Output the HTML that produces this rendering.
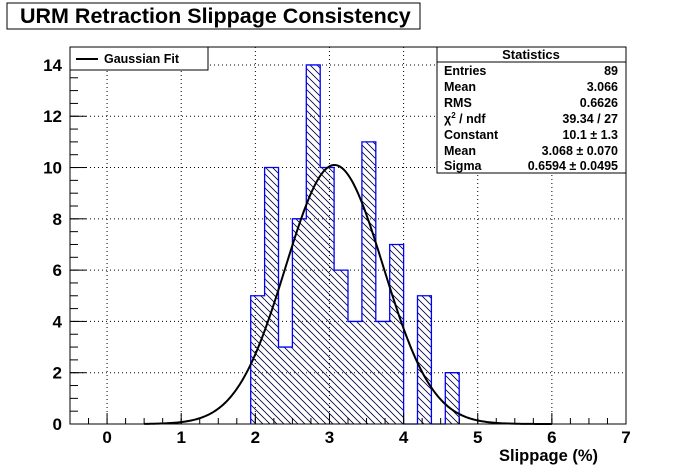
<!DOCTYPE html>
<html><head><meta charset="utf-8"><style>
body{margin:0;background:#fff;}
svg{display:block;font-family:"Liberation Sans",Arial,sans-serif;font-weight:bold;}
</style></head><body>
<svg width="696" height="472" viewBox="0 0 696 472">
<defs>
<pattern id="hatch" patternUnits="userSpaceOnUse" width="7" height="7">
<path d="M-1,-1 L8,8 M-8,-1 L1,8 M6,-1 L15,8" stroke="#000040" stroke-width="0.8"/>
</pattern>
</defs>
<rect x="7" y="3" width="413" height="26" fill="#fff" stroke="#000"/>
<text x="20" y="23" font-size="21.5">URM Retraction Slippage Consistency</text>
<g id="grid"></g>
<g id="bars"></g>
<path id="outline" fill="none" stroke="#0000ff" stroke-width="1.3"/>
<path id="fit" fill="none" stroke="#000" stroke-width="2"/>
<rect x="70" y="47" width="556" height="377" fill="none" stroke="#000"/>
<g id="axes"></g>
<text x="598" y="461" font-size="16.5" text-anchor="end">Slippage (%)</text>
<g>
<rect x="70" y="47" width="138" height="23" fill="#fff" stroke="#000"/>
<line x1="76" y1="59" x2="98" y2="59" stroke="#000" stroke-width="2"/>
<text x="104" y="63" font-size="12.5">Gaussian Fit</text>
</g>
<g font-size="12.5">
<rect x="437" y="47" width="189" height="126" fill="#fff" stroke="#000"/>
<line x1="437" y1="62" x2="626" y2="62" stroke="#000"/>
<text x="531" y="59" text-anchor="middle" font-size="13">Statistics</text>
<text x="444" y="75">Entries</text><text x="618" y="75" text-anchor="end">89</text>
<text x="444" y="91">Mean</text><text x="618" y="91" text-anchor="end">3.066</text>
<text x="444" y="107">RMS</text><text x="618" y="107" text-anchor="end">0.6626</text>
<text x="444" y="123">χ<tspan font-size="8" dy="-5">2</tspan><tspan dy="5"> / ndf</tspan></text><text x="618" y="123" text-anchor="end">39.34 / 27</text>
<text x="444" y="139">Constant</text><text x="618" y="139" text-anchor="end">10.1 ± 1.3</text>
<text x="444" y="155">Mean</text><text x="618" y="155" text-anchor="end">3.068 ± 0.070</text>
<text x="444" y="170">Sigma</text><text x="618" y="170" text-anchor="end">0.6594 ± 0.0495</text>
</g>
</svg>
<script>
const binStart = 1.9375;
const binWidth = 0.1875;
const counts = [5,10,3,8,14,10,6,4,11,4,7,0,5,0,2];
const fitParams = [10.1, 3.068, 0.6594];
const fitRange = [0.5, 6.0];
const xTicks = [0,1,2,3,4,5,6,7];
const yTicks = [0,2,4,6,8,10,12,14];
const xMin=-0.5,xMax=7,yMin=0,yMax=14.7;
const L=70,R=626,T=47,B=424;
const sx=v=>L+(v-xMin)/(xMax-xMin)*(R-L);
const sy=v=>B-(v-yMin)/(yMax-yMin)*(B-T);
const NS="http://www.w3.org/2000/svg";
function mk(tag,attrs,parent){const e=document.createElementNS(NS,tag);for(const k in attrs)e.setAttribute(k,attrs[k]);parent.appendChild(e);return e;}
const grid=document.getElementById('grid'),bars=document.getElementById('bars'),axes=document.getElementById('axes');
xTicks.forEach(t=>{const g=mk('line',{x1:sx(t),x2:sx(t),y1:T,y2:B,stroke:'#000','stroke-dasharray':'1,3'},grid);


const tk=mk('line',{x1:sx(t),x2:sx(t),y1:B,y2:B-11,stroke:'#000'},axes);


const lb=mk('text',{x:sx(t),y:B+19,'font-size':17,'text-anchor':'middle'},axes);lb.textContent=t;

});
for(let v=xMin;v<=xMax+1e-9;v+=0.25){mk('line',{x1:sx(v),x2:sx(v),y1:B,y2:B-6,stroke:'#000'},axes);}
yTicks.forEach(t=>{const g=mk('line',{x1:L,x2:R,y1:sy(t),y2:sy(t),stroke:'#000','stroke-dasharray':'1,3'},grid);


const tk=mk('line',{x1:L,x2:L+16,y1:sy(t),y2:sy(t),stroke:'#000'},axes);


const lb=mk('text',{x:L-8,y:sy(t)+6,'font-size':17,'text-anchor':'end'},axes);lb.textContent=t;

});
for(let v=0;v<=yMax;v+=0.5){mk('line',{x1:L,x2:L+8,y1:sy(v),y2:sy(v),stroke:'#000'},axes);}
let od='';
counts.forEach((c,i)=>{const x0=sx(binStart+i*binWidth),x1=sx(binStart+(i+1)*binWidth);
od+=(i?'L':'M'+x0+','+sy(0)+'L')+x0+','+sy(c)+'L'+x1+','+sy(c);
if(c<=0)return;
const r=mk('rect',{x:x0,y:sy(c),width:x1-x0,height:B-sy(c),fill:'url(#hatch)'},bars);

});
od+='L'+sx(binStart+counts.length*binWidth)+','+sy(0);
document.getElementById('outline').setAttribute('d',od);
let d='';for(let i=0;i<=200;i++){const x=fitRange[0]+(fitRange[1]-fitRange[0])*i/200;
const y=fitParams[0]*Math.exp(-0.5*Math.pow((x-fitParams[1])/fitParams[2],2));d+=(i?'L':'M')+sx(x).toFixed(2)+','+sy(y).toFixed(2);}
document.getElementById('fit').setAttribute('d',d);
</script>
</body></html>
